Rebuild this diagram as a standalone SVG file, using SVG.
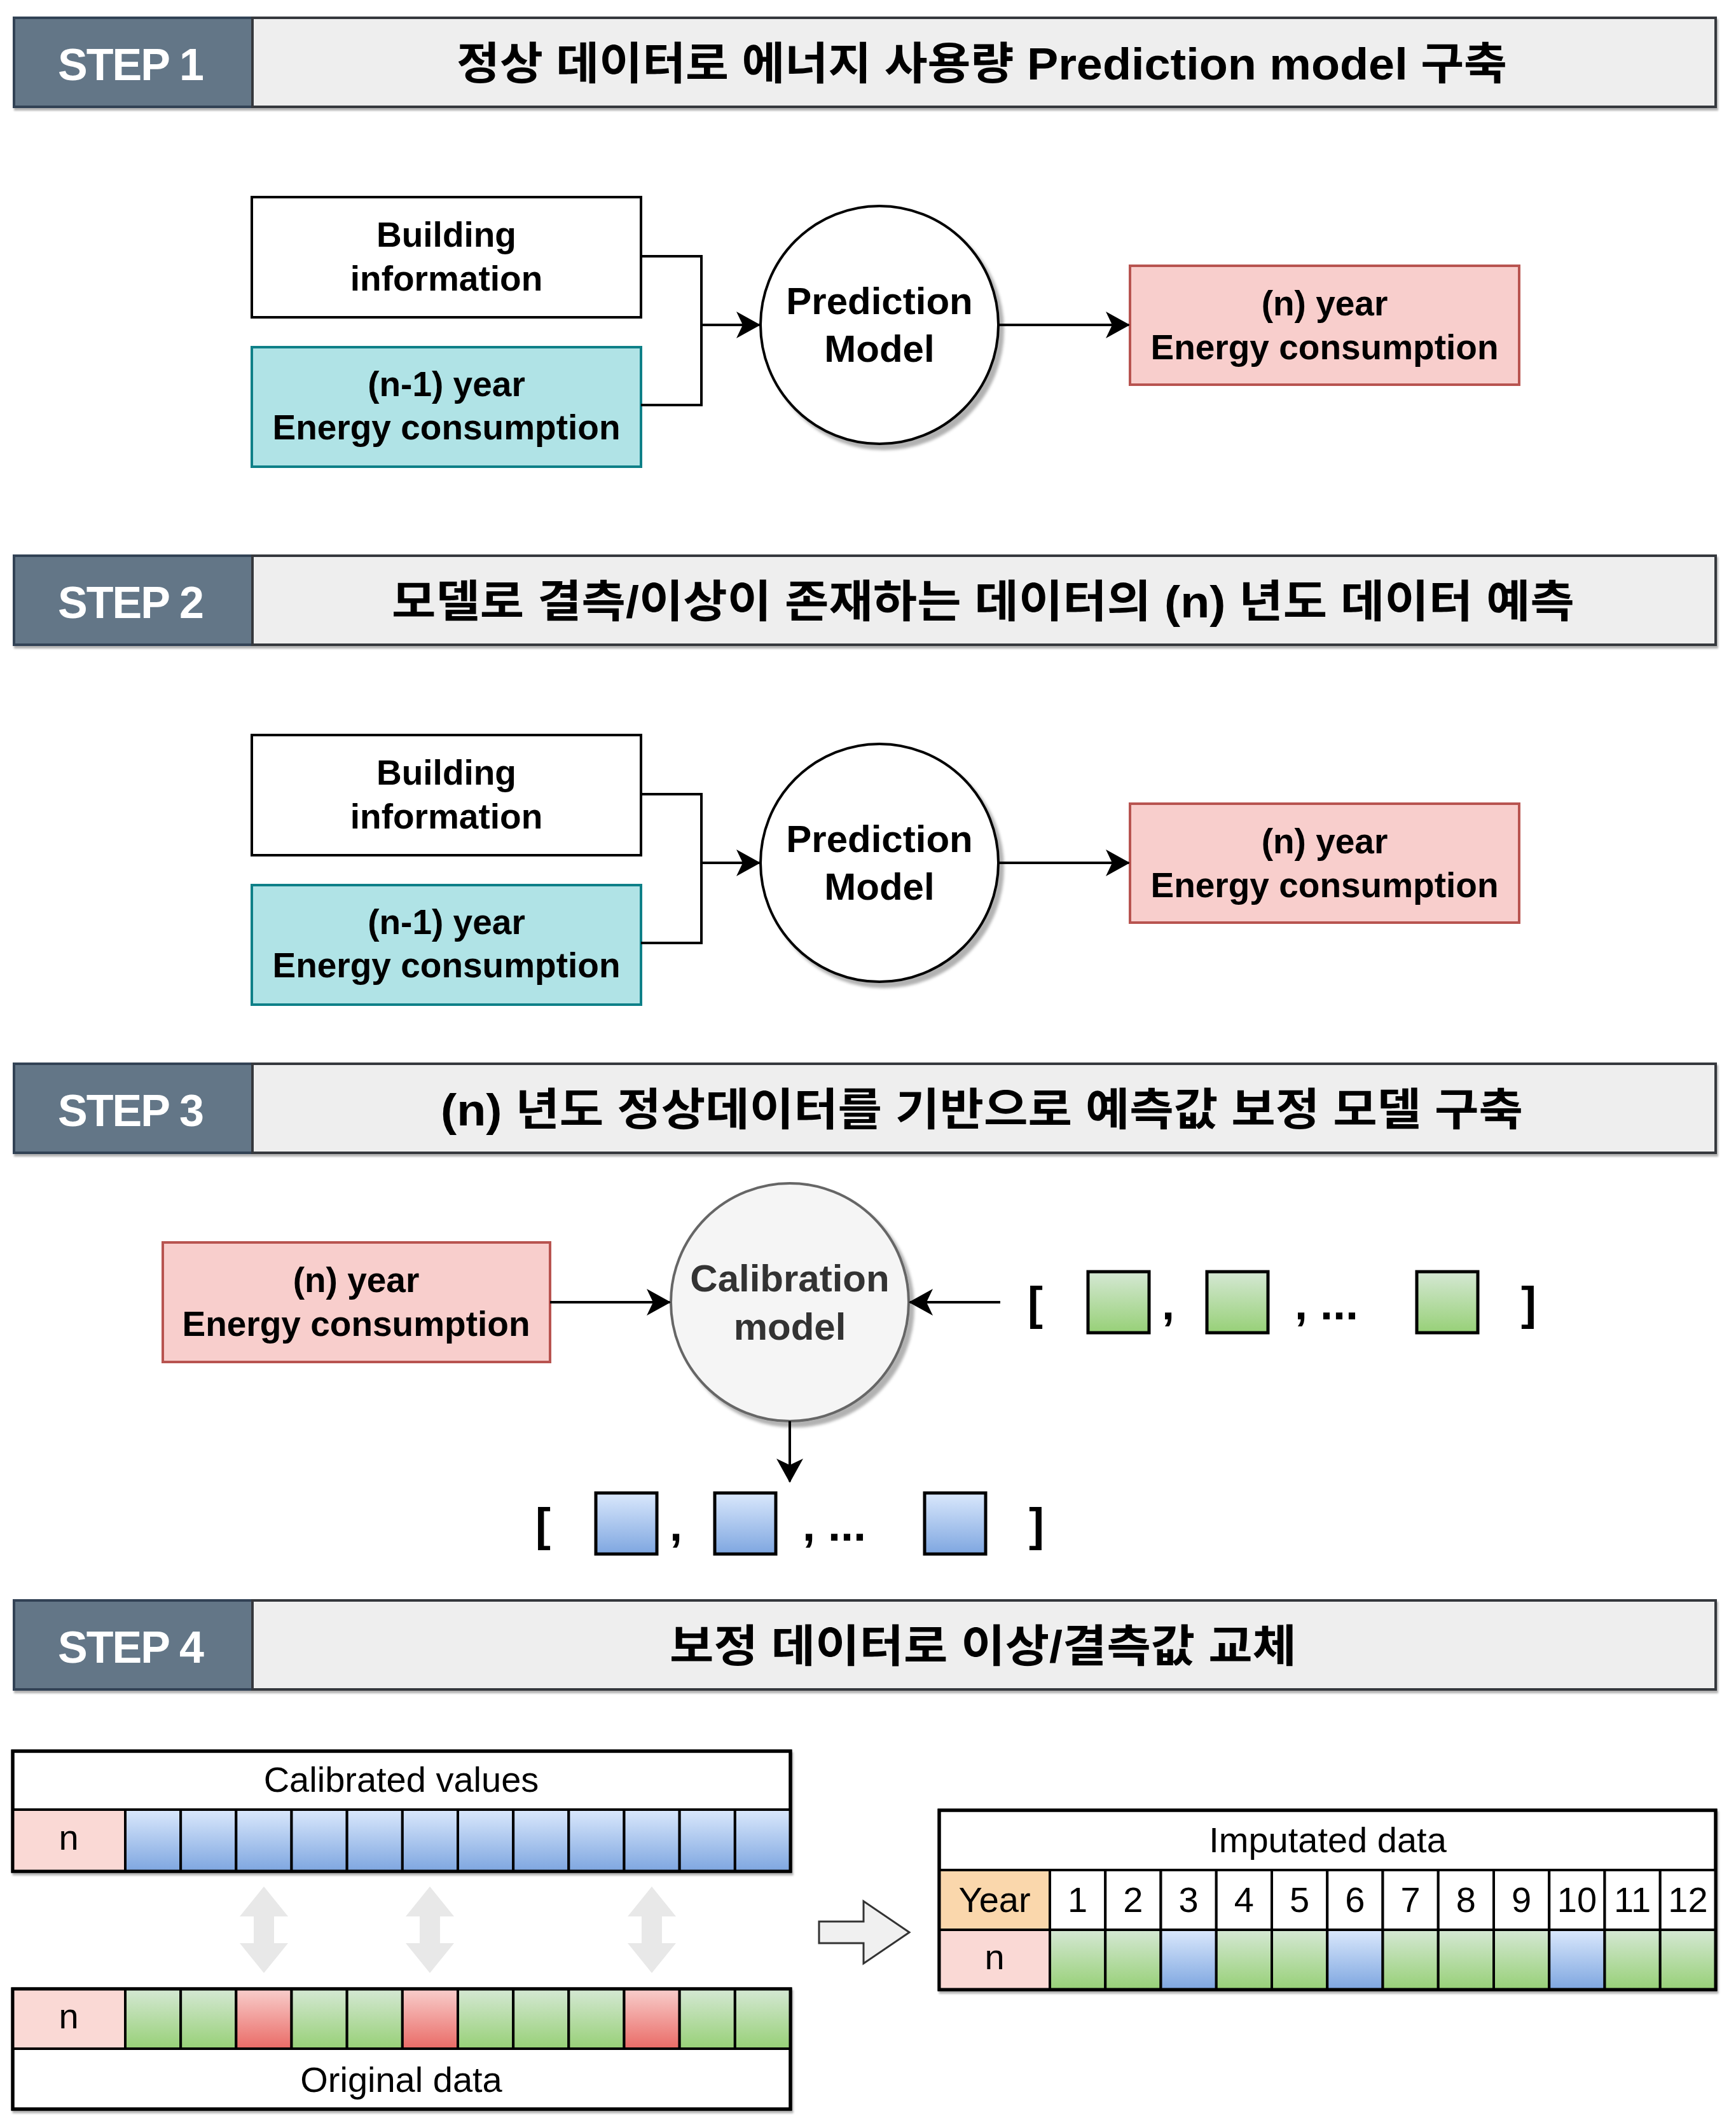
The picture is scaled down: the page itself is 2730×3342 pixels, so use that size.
<svg xmlns="http://www.w3.org/2000/svg" width="2730" height="3342" viewBox="0 0 2730 3342">
<defs>
<style>
.t{font-family:"Liberation Sans","Noto Sans CJK KR",sans-serif}
.step{fill:#fff;font-size:70px;font-weight:bold;text-anchor:middle;letter-spacing:-2px}
.title{fill:#000;font-size:70px;font-weight:bold;text-anchor:middle}
.box{fill:#000;font-size:55px;font-weight:bold;text-anchor:middle}
.circ{fill:#000;font-size:60px;font-weight:bold;text-anchor:middle}
.reg{fill:#000;font-size:56px;text-anchor:middle}
.br{fill:#000;font-size:72px;font-weight:bold}
.conn{fill:none;stroke:#000;stroke-width:4}
.hd{fill:#647687;stroke:#314354;stroke-width:4}
.tb{fill:#eeeeee;stroke:#36393d;stroke-width:4}
.pink{fill:#f8cecc;stroke:#b85450;stroke-width:4}
.cyan{fill:#b0e3e6;stroke:#0e8088;stroke-width:4}
.white{fill:#fff;stroke:#000;stroke-width:4}
.sq{stroke:#000;stroke-width:5}
.cell{stroke:#000;stroke-width:4}
.dbl{fill:#e8e8e8;stroke:none}
</style>
<linearGradient id="gB" x1="0" y1="0" x2="0" y2="1"><stop offset="0" stop-color="#dae8fc"/><stop offset="1" stop-color="#7ea6e0"/></linearGradient>
<linearGradient id="gG" x1="0" y1="0" x2="0" y2="1"><stop offset="0" stop-color="#d5e8d4"/><stop offset="1" stop-color="#97d077"/></linearGradient>
<linearGradient id="gR" x1="0" y1="0" x2="0" y2="1"><stop offset="0" stop-color="#f8cecc"/><stop offset="1" stop-color="#ea6b66"/></linearGradient>
<marker id="arr" markerUnits="userSpaceOnUse" markerWidth="40" markerHeight="44" viewBox="0 0 40 44" refX="36" refY="22" orient="auto"><path d="M0,1 L38,22 L0,43 L10,22 Z" fill="#000"/></marker>
<filter id="sh" x="-5%" y="-5%" width="115%" height="120%"><feDropShadow dx="7" dy="8" stdDeviation="2" flood-color="#000" flood-opacity="0.3"/></filter>
<filter id="sh2" x="-2%" y="-5%" width="104%" height="115%"><feDropShadow dx="2" dy="4" stdDeviation="1.5" flood-color="#000" flood-opacity="0.3"/></filter>
</defs>
<rect x="0" y="0" width="2730" height="3342" fill="#fff"/>

<!-- headers -->
<g id="step1-header" class="t">
<g filter="url(#sh2)"><rect class="hd" x="22" y="28" width="375" height="140"/><rect class="tb" x="397" y="28" width="2301" height="140"/></g>
<text class="step" x="205" y="126">STEP 1</text>
<text class="title" x="1544" y="125" textLength="1652" lengthAdjust="spacingAndGlyphs">정상 데이터로 에너지 사용량 Prediction model 구축</text>
</g>
<g id="step2-header" class="t">
<g filter="url(#sh2)"><rect class="hd" x="22" y="874" width="375" height="140"/><rect class="tb" x="397" y="874" width="2301" height="140"/></g>
<text class="step" x="205" y="972">STEP 2</text>
<text class="title" x="1546" y="971" textLength="1860" lengthAdjust="spacingAndGlyphs">모델로 결측/이상이 존재하는 데이터의 (n) 년도 데이터 예측</text>
</g>
<g id="step3-header" class="t">
<g filter="url(#sh2)"><rect class="hd" x="22" y="1673" width="375" height="140"/><rect class="tb" x="397" y="1673" width="2301" height="140"/></g>
<text class="step" x="205" y="1771">STEP 3</text>
<text class="title" x="1544" y="1770" textLength="1702" lengthAdjust="spacingAndGlyphs">(n) 년도 정상데이터를 기반으로 예측값 보정 모델 구축</text>
</g>
<g id="step4-header" class="t">
<g filter="url(#sh2)"><rect class="hd" x="22" y="2517" width="375" height="140"/><rect class="tb" x="397" y="2517" width="2301" height="140"/></g>
<text class="step" x="205" y="2615">STEP 4</text>
<text class="title" x="1546" y="2614" textLength="986" lengthAdjust="spacingAndGlyphs">보정 데이터로 이상/결측값 교체</text>
</g>

<!-- STEP 1 nodes -->
<g id="s1-building" class="t">
<rect class="white" x="396" y="310" width="612" height="189"/>
<text class="box"><tspan x="702" y="388">Building</tspan><tspan x="702" y="457">information</tspan></text>
</g>
<g id="s1-prev" class="t">
<rect class="cyan" x="396" y="546" width="612" height="188"/>
<text class="box"><tspan x="702" y="623">(n-1) year</tspan><tspan x="702" y="691">Energy consumption</tspan></text>
</g>
<g id="s1-model" class="t">
<circle cx="1383" cy="511" r="187" fill="#fff" stroke="#000" stroke-width="4" filter="url(#sh)"/>
<text class="circ"><tspan x="1383" y="494">Prediction</tspan><tspan x="1383" y="569">Model</tspan></text>
</g>
<g id="s1-out" class="t">
<rect class="pink" x="1777" y="418" width="612" height="187"/>
<text class="box"><tspan x="2083" y="496">(n) year</tspan><tspan x="2083" y="565">Energy consumption</tspan></text>
</g>

<!-- STEP 2 nodes -->
<g id="s2-building" class="t">
<rect class="white" x="396" y="1156" width="612" height="189"/>
<text class="box"><tspan x="702" y="1234">Building</tspan><tspan x="702" y="1303">information</tspan></text>
</g>
<g id="s2-prev" class="t">
<rect class="cyan" x="396" y="1392" width="612" height="188"/>
<text class="box"><tspan x="702" y="1469">(n-1) year</tspan><tspan x="702" y="1537">Energy consumption</tspan></text>
</g>
<g id="s2-model" class="t">
<circle cx="1383" cy="1357" r="187" fill="#fff" stroke="#000" stroke-width="4" filter="url(#sh)"/>
<text class="circ"><tspan x="1383" y="1340">Prediction</tspan><tspan x="1383" y="1415">Model</tspan></text>
</g>
<g id="s2-out" class="t">
<rect class="pink" x="1777" y="1264" width="612" height="187"/>
<text class="box"><tspan x="2083" y="1342">(n) year</tspan><tspan x="2083" y="1411">Energy consumption</tspan></text>
</g>

<!-- STEP 3 nodes -->
<g id="s3-in" class="t">
<rect class="pink" x="256" y="1954" width="609" height="188"/>
<text class="box"><tspan x="560" y="2032">(n) year</tspan><tspan x="560" y="2101">Energy consumption</tspan></text>
</g>
<g id="s3-model" class="t">
<circle cx="1242" cy="2048" r="187" fill="#f5f5f5" stroke="#666666" stroke-width="4" filter="url(#sh)"/>
<text class="circ" style="fill:#333"><tspan x="1242" y="2031">Calibration</tspan><tspan x="1242" y="2107">model</tspan></text>
</g>
<g id="s3-green" class="t">
<text class="br" x="1616" y="2075">[</text>
<rect class="sq" x="1711" y="2000" width="96" height="96" fill="url(#gG)"/>
<text class="br" x="1827" y="2075">,</text>
<rect class="sq" x="1898" y="2000" width="96" height="96" fill="url(#gG)"/>
<text class="br" x="2036" y="2075">, ...</text>
<rect class="sq" x="2228" y="2000" width="96" height="96" fill="url(#gG)"/>
<text class="br" x="2392" y="2075">]</text>
</g>
<g id="s3-blue" class="t">
<text class="br" x="842" y="2423">[</text>
<rect class="sq" x="937" y="2348" width="96" height="96" fill="url(#gB)"/>
<text class="br" x="1053" y="2423">,</text>
<rect class="sq" x="1124" y="2348" width="96" height="96" fill="url(#gB)"/>
<text class="br" x="1262" y="2423">, ...</text>
<rect class="sq" x="1454" y="2348" width="96" height="96" fill="url(#gB)"/>
<text class="br" x="1618" y="2423">]</text>
</g>

<!-- connectors -->
<g id="connectors">
<path class="conn" d="M1008,403 H1103 V637 H1008"/>
<path class="conn" d="M1103,511 H1194" marker-end="url(#arr)"/>
<path class="conn" d="M1570,511 H1775" marker-end="url(#arr)"/>
<path class="conn" d="M1008,1249 H1103 V1483 H1008"/>
<path class="conn" d="M1103,1357 H1194" marker-end="url(#arr)"/>
<path class="conn" d="M1570,1357 H1775" marker-end="url(#arr)"/>
<path class="conn" d="M865,2048 H1053" marker-end="url(#arr)"/>
<path class="conn" d="M1573,2048 H1431" marker-end="url(#arr)"/>
<path class="conn" d="M1242,2235 V2330" marker-end="url(#arr)"/>
</g>

<!-- STEP 4 -->
<g id="s4-calibrated" class="t">
<g filter="url(#sh2)"><rect x="20" y="2754" width="1223" height="189" fill="#fff" stroke="#000" stroke-width="5"/></g>
<rect class="cell" x="20" y="2846" width="177" height="97" fill="#fad9d5"/>
<rect class="cell" x="197.00" y="2846" width="87.17" height="97" fill="url(#gB)"/>
<rect class="cell" x="284.17" y="2846" width="87.17" height="97" fill="url(#gB)"/>
<rect class="cell" x="371.33" y="2846" width="87.17" height="97" fill="url(#gB)"/>
<rect class="cell" x="458.50" y="2846" width="87.17" height="97" fill="url(#gB)"/>
<rect class="cell" x="545.67" y="2846" width="87.17" height="97" fill="url(#gB)"/>
<rect class="cell" x="632.83" y="2846" width="87.17" height="97" fill="url(#gB)"/>
<rect class="cell" x="720.00" y="2846" width="87.17" height="97" fill="url(#gB)"/>
<rect class="cell" x="807.17" y="2846" width="87.17" height="97" fill="url(#gB)"/>
<rect class="cell" x="894.33" y="2846" width="87.17" height="97" fill="url(#gB)"/>
<rect class="cell" x="981.50" y="2846" width="87.17" height="97" fill="url(#gB)"/>
<rect class="cell" x="1068.67" y="2846" width="87.17" height="97" fill="url(#gB)"/>
<rect class="cell" x="1155.83" y="2846" width="87.17" height="97" fill="url(#gB)"/>
<rect x="20" y="2754" width="1223" height="189" fill="none" stroke="#000" stroke-width="5"/>
<text class="reg" x="631" y="2818">Calibrated values</text>
<text class="reg" x="108" y="2909">n</text>
</g>

<g id="s4-compare">
<polygon class="dbl" points="415,2967 453,3014 431,3014 431,3056 453,3056 415,3103 377,3056 399,3056 399,3014 377,3014"/>
<polygon class="dbl" points="676,2967 714,3014 692,3014 692,3056 714,3056 676,3103 638,3056 660,3056 660,3014 638,3014"/>
<polygon class="dbl" points="1025,2967 1063,3014 1041,3014 1041,3056 1063,3056 1025,3103 987,3056 1009,3056 1009,3014 987,3014"/>
</g>

<g id="s4-original" class="t">
<g filter="url(#sh2)"><rect x="20" y="3128" width="1223" height="189" fill="#fff" stroke="#000" stroke-width="5"/></g>
<rect class="cell" x="20" y="3128" width="177" height="94" fill="#fad9d5"/>
<rect class="cell" x="197.00" y="3128" width="87.17" height="94" fill="url(#gG)"/>
<rect class="cell" x="284.17" y="3128" width="87.17" height="94" fill="url(#gG)"/>
<rect class="cell" x="371.33" y="3128" width="87.17" height="94" fill="url(#gR)"/>
<rect class="cell" x="458.50" y="3128" width="87.17" height="94" fill="url(#gG)"/>
<rect class="cell" x="545.67" y="3128" width="87.17" height="94" fill="url(#gG)"/>
<rect class="cell" x="632.83" y="3128" width="87.17" height="94" fill="url(#gR)"/>
<rect class="cell" x="720.00" y="3128" width="87.17" height="94" fill="url(#gG)"/>
<rect class="cell" x="807.17" y="3128" width="87.17" height="94" fill="url(#gG)"/>
<rect class="cell" x="894.33" y="3128" width="87.17" height="94" fill="url(#gG)"/>
<rect class="cell" x="981.50" y="3128" width="87.17" height="94" fill="url(#gR)"/>
<rect class="cell" x="1068.67" y="3128" width="87.17" height="94" fill="url(#gG)"/>
<rect class="cell" x="1155.83" y="3128" width="87.17" height="94" fill="url(#gG)"/>
<rect x="20" y="3128" width="1223" height="189" fill="none" stroke="#000" stroke-width="5"/>
<text class="reg" x="108" y="3190">n</text>
<text class="reg" x="631" y="3290">Original data</text>
</g>

<g id="s4-arrow">
<polygon points="1288,3022 1358,3022 1358,2990 1430,3039 1358,3088 1358,3056 1288,3056" fill="#f0f0f0" stroke="#333" stroke-width="3"/>
</g>

<g id="s4-imputed" class="t">
<g filter="url(#sh2)"><rect x="1477" y="2847" width="1221" height="282" fill="#fff" stroke="#000" stroke-width="5"/></g>
<rect class="cell" x="1477" y="2941" width="174" height="94" fill="#fad7ac"/>
<rect class="cell" x="1477" y="3035" width="174" height="94" fill="#fad9d5"/>
<rect class="cell" x="1651.00" y="2941" width="87.25" height="94" fill="#fff"/>
<rect class="cell" x="1738.25" y="2941" width="87.25" height="94" fill="#fff"/>
<rect class="cell" x="1825.50" y="2941" width="87.25" height="94" fill="#fff"/>
<rect class="cell" x="1912.75" y="2941" width="87.25" height="94" fill="#fff"/>
<rect class="cell" x="2000.00" y="2941" width="87.25" height="94" fill="#fff"/>
<rect class="cell" x="2087.25" y="2941" width="87.25" height="94" fill="#fff"/>
<rect class="cell" x="2174.50" y="2941" width="87.25" height="94" fill="#fff"/>
<rect class="cell" x="2261.75" y="2941" width="87.25" height="94" fill="#fff"/>
<rect class="cell" x="2349.00" y="2941" width="87.25" height="94" fill="#fff"/>
<rect class="cell" x="2436.25" y="2941" width="87.25" height="94" fill="#fff"/>
<rect class="cell" x="2523.50" y="2941" width="87.25" height="94" fill="#fff"/>
<rect class="cell" x="2610.75" y="2941" width="87.25" height="94" fill="#fff"/>
<rect class="cell" x="1651.00" y="3035" width="87.25" height="94" fill="url(#gG)"/>
<rect class="cell" x="1738.25" y="3035" width="87.25" height="94" fill="url(#gG)"/>
<rect class="cell" x="1825.50" y="3035" width="87.25" height="94" fill="url(#gB)"/>
<rect class="cell" x="1912.75" y="3035" width="87.25" height="94" fill="url(#gG)"/>
<rect class="cell" x="2000.00" y="3035" width="87.25" height="94" fill="url(#gG)"/>
<rect class="cell" x="2087.25" y="3035" width="87.25" height="94" fill="url(#gB)"/>
<rect class="cell" x="2174.50" y="3035" width="87.25" height="94" fill="url(#gG)"/>
<rect class="cell" x="2261.75" y="3035" width="87.25" height="94" fill="url(#gG)"/>
<rect class="cell" x="2349.00" y="3035" width="87.25" height="94" fill="url(#gG)"/>
<rect class="cell" x="2436.25" y="3035" width="87.25" height="94" fill="url(#gB)"/>
<rect class="cell" x="2523.50" y="3035" width="87.25" height="94" fill="url(#gG)"/>
<rect class="cell" x="2610.75" y="3035" width="87.25" height="94" fill="url(#gG)"/>
<rect x="1477" y="2847" width="1221" height="282" fill="none" stroke="#000" stroke-width="5"/>
<text class="reg" x="2088" y="2913">Imputated data</text>
<text class="reg" x="1564" y="3007">Year</text>
<text class="reg" x="1564" y="3097">n</text>
<text class="reg" x="1694.6" y="3007">1</text>
<text class="reg" x="1781.9" y="3007">2</text>
<text class="reg" x="1869.1" y="3007">3</text>
<text class="reg" x="1956.4" y="3007">4</text>
<text class="reg" x="2043.6" y="3007">5</text>
<text class="reg" x="2130.9" y="3007">6</text>
<text class="reg" x="2218.1" y="3007">7</text>
<text class="reg" x="2305.4" y="3007">8</text>
<text class="reg" x="2392.6" y="3007">9</text>
<text class="reg" x="2479.9" y="3007">10</text>
<text class="reg" x="2567.1" y="3007">11</text>
<text class="reg" x="2654.4" y="3007">12</text>
</g>
</svg>
